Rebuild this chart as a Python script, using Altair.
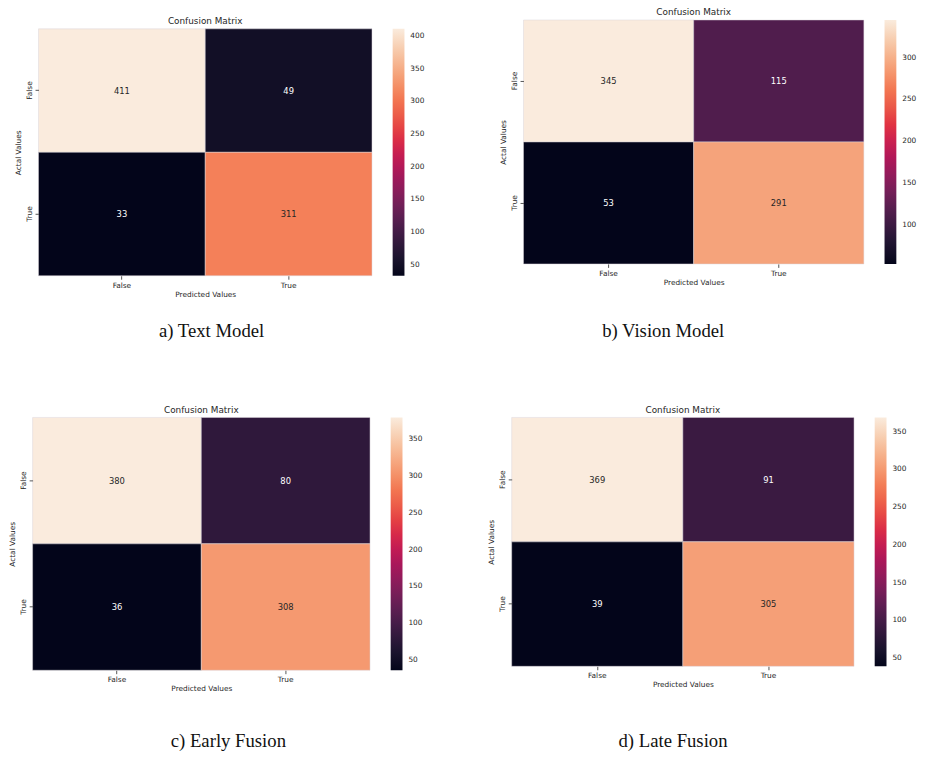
import altair as alt
import pandas as pd

# ---------------- data ----------------
predicted = ["False", "True", "False", "True"]
actual = ["False", "False", "True", "True"]
class_order = ["False", "True"]

counts_a = [411, 49, 33, 311]   # Text Model
counts_b = [345, 115, 53, 291]  # Vision Model
counts_c = [380, 80, 36, 308]   # Early Fusion
counts_d = [369, 91, 39, 305]   # Late Fusion

ticks_a = [50, 100, 150, 200, 250, 300, 350, 400]
ticks_b = [100, 150, 200, 250, 300]
ticks_c = [50, 100, 150, 200, 250, 300, 350]
ticks_d = [50, 100, 150, 200, 250, 300, 350]

captions = ["a) Text Model", "b) Vision Model", "c) Early Fusion", "d) Late Fusion"]
panel_title = "Confusion Matrix"
x_title = "Predicted Values"
y_title = "Actal Values"

# seaborn "rocket" colormap key colours
ROCKET = ["#03051A", "#35193E", "#701F57", "#AD1759",
          "#E13342", "#F37651", "#F6B48F", "#FAEBDD"]

FONT = "DejaVu Sans"
INK = "#262626"


def panel(counts, ticks, caption, w, h, cap_x, cap_y, dx=0, dy=0):
    """One seaborn-like heatmap; (dx, dy) shift the plot area inside its view."""
    df = pd.DataFrame({"Predicted": predicted, "Actual": actual, "count": counts})
    lo, hi = min(counts), max(counts)
    n = len(ROCKET)
    dom = [lo + (hi - lo) * i / (n - 1) for i in range(n)]
    mid = (lo + hi) / 2

    x = alt.X("Predicted:N", sort=class_order,
              scale=alt.Scale(paddingInner=0, paddingOuter=0, range=[dx, dx + w]),
              axis=alt.Axis(title=x_title, labelAngle=0, labelFont=FONT, labelFontSize=7.5,
                            titleFont=FONT, titleFontSize=7.5, titleFontWeight="normal",
                            tickSize=3.5, labelPadding=2, titlePadding=2, domain=False,
                            grid=False, labelColor=INK, titleColor=INK, tickColor="#555",
                            titleX=dx + w / 2))
    y = alt.Y("Actual:N", sort=class_order,
              scale=alt.Scale(paddingInner=0, paddingOuter=0, range=[dy, dy + h]),
              axis=alt.Axis(title=y_title, labelAngle=270, labelAlign="center",
                            labelBaseline="bottom", labelFont=FONT, labelFontSize=7.5,
                            titleFont=FONT, titleFontSize=7.5, titleFontWeight="normal",
                            tickSize=3.5, labelPadding=2, titlePadding=3, domain=False,
                            grid=False, labelColor=INK, titleColor=INK, tickColor="#555",
                            offset=-dx, titleY=dy + h / 2))

    if dx or dy:
        legend = alt.Legend(title=None, values=ticks, orient="none",
                            legendX=dx + w + 21, legendY=dy,
                            direction="vertical", gradientLength=h,
                            gradientThickness=12, padding=0,
                            labelFont=FONT, labelFontSize=7.5, labelColor=INK, labelOffset=6)
    else:
        legend = alt.Legend(title=None, values=ticks, orient="right",
                            direction="vertical", gradientLength=h,
                            gradientThickness=12, offset=21, padding=0,
                            labelFont=FONT, labelFontSize=7.5, labelColor=INK, labelOffset=6)

    base = alt.Chart(df)
    rect = base.mark_rect(stroke="#ddd6dd", strokeWidth=0.5).encode(
        x=x, y=y,
        color=alt.Color("count:Q",
                        scale=alt.Scale(domain=dom, range=ROCKET, nice=False, zero=False),
                        legend=legend))
    text = base.mark_text(font=FONT, fontSize=8.5).encode(
        x=x, y=y, text="count:Q",
        color=alt.condition(f"datum['count'] > {mid}", alt.value(INK), alt.value("#ffffff")))
    ttl = alt.Chart(pd.DataFrame({"t": [panel_title]})).mark_text(
        font=FONT, fontSize=9, color=INK, baseline="middle", align="center").encode(
        text="t:N", x=alt.value(dx + w / 2), y=alt.value(dy - 8))
    cap = alt.Chart(pd.DataFrame({"caption": [caption]})).mark_text(
        font="Liberation Serif", fontSize=19, color="#111111", baseline="middle").encode(
        text="caption:N", x=alt.value(dx + cap_x), y=alt.value(dy + cap_y))
    return alt.layer(rect, text, ttl, cap).properties(width=dx + w, height=dy + h)


pa = panel(counts_a, ticks_a, captions[0], 339, 251, 176, 307, dx=6, dy=9)
pb = panel(counts_b, ticks_b, captions[1], 346, 248, 142, 316)
pc = panel(counts_c, ticks_c, captions[2], 343, 257, 199, 329)
pd_ = panel(counts_d, ticks_d, captions[3], 348, 253, 164, 329)

row1 = alt.hconcat(pa, pb, spacing=75).resolve_scale(color="independent").resolve_legend(color="independent")
row2 = alt.hconcat(pc, pd_, spacing=65).resolve_scale(color="independent").resolve_legend(color="independent")

chart = alt.vconcat(row1, row2, spacing=66).resolve_scale(
    color="independent").resolve_legend(color="independent").properties(
    padding={"top": -6, "left": 0, "right": 0, "bottom": 0},
    background="white").configure_view(strokeWidth=0, stroke="transparent")

chart.save("out.html", embed_options={"renderer": "svg", "actions": False})
